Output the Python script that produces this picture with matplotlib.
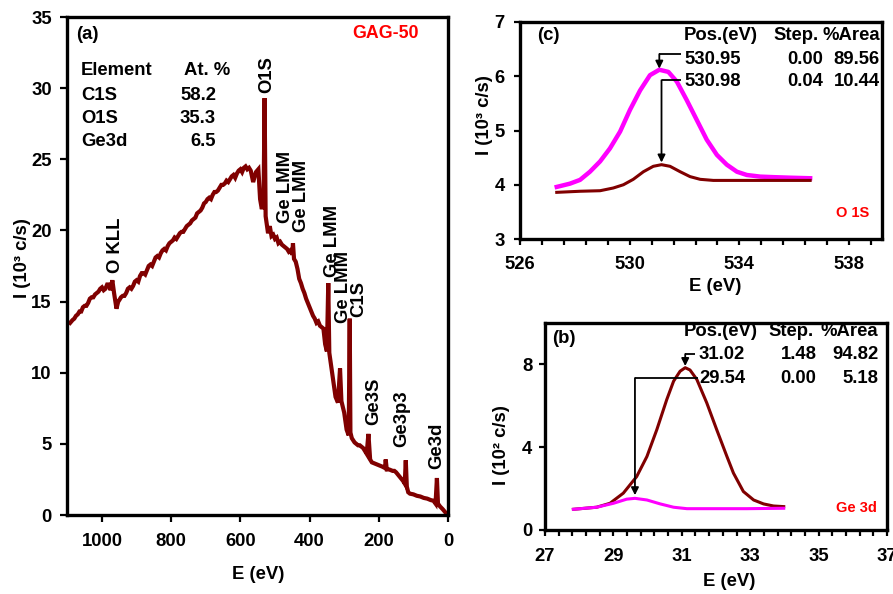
import matplotlib
matplotlib.use("Agg")
import matplotlib.pyplot as plt
import numpy as np
from matplotlib.ticker import MultipleLocator, FixedLocator

plt.rcParams['font.family'] = ['Liberation Sans', 'DejaVu Sans']
plt.rcParams['font.weight'] = 'bold'
plt.rcParams['axes.labelweight'] = 'bold'

# ---------------- data: survey spectrum (a) ----------------
survey_E = [1092, 1085, 1080, 1075, 1070, 1065, 1060, 1055, 1050, 1045, 1040, 1035, 1030, 1025, 1020, 1015,
            1010, 1005, 1000, 995, 990, 985, 980, 975, 970, 965, 958,
            953, 950, 945, 940, 935, 930, 925, 920, 915, 910, 905, 900, 895, 890, 885, 880, 875, 870, 865,
            860, 855, 850, 845, 840, 835, 830, 825, 820, 815, 810, 805, 800, 795, 790, 785, 780, 775,
            770, 765, 760, 755, 750, 745, 740, 735, 730, 725, 720, 715, 710, 705, 700, 695, 690, 685,
            680, 675, 670, 665, 660, 655, 650, 645, 640, 635, 630, 625, 620, 615, 610, 605, 600, 595,
            590, 585, 580, 575, 570, 563, 555, 548, 543, 538, 533, 530, 527, 520, 515, 510, 505, 500,
            495, 490, 485, 480, 475, 470, 465, 460, 455, 450, 448, 445, 440, 435, 430, 425, 420, 415,
            410, 405, 400, 395, 390, 385, 380, 375, 370, 365, 360, 355, 350, 346, 343, 335,
            325, 318, 312, 308, 300, 293, 287, 284, 282, 278, 270, 265, 260, 255, 250, 245, 240, 235, 230, 225, 220,
            210, 200, 190, 182, 180, 177, 170, 165, 160, 155, 150, 140, 130, 125, 122, 119, 115, 110, 100, 90,
            80, 70, 60, 50, 42, 36, 32, 29, 23, 15, 8, 3]
survey_I = [13.5, 13.7, 13.8, 14.0, 14.1, 14.3, 14.3, 14.6, 14.7, 14.7, 14.9, 15.2, 15.3, 15.3, 15.5, 15.6,
            15.7, 15.9, 16.0, 15.8, 15.9, 16.2, 16.2, 15.8, 16.5, 15.6, 14.5,
            15.0, 15.1, 15.3, 15.4, 15.4, 15.6, 15.9, 16.0, 15.9, 16.1, 16.4, 16.5, 16.4, 16.8, 17.0, 17.0, 16.9, 17.2, 17.5,
            17.6, 17.5, 17.8, 18.1, 18.2, 18.1, 18.4, 18.6, 18.7, 18.6, 18.9, 19.1, 19.2, 19.3, 19.5, 19.4, 19.6, 19.8,
            19.9, 19.9, 20.1, 20.3, 20.4, 20.5, 20.7, 20.8, 20.9, 21.2, 21.3, 21.4, 21.6, 21.9, 22.0, 22.2, 22.3, 22.2,
            22.5, 22.7, 22.7, 22.8, 23.0, 23.2, 23.2, 23.3, 23.5, 23.4, 23.6, 23.8, 23.9, 23.7, 24.0, 24.2, 24.3, 24.1,
            24.4, 24.5, 24.3, 24.4, 24.2, 23.4, 24.1, 24.3, 22.2, 21.5, 22.0, 29.3, 21.0, 19.8, 20.3, 19.6, 19.7, 19.4,
            19.5, 19.1, 19.2, 19.0, 18.9, 18.8, 18.7, 18.5, 18.6, 18.3, 19.1, 18.0, 17.8, 17.3, 16.6, 16.3, 15.9, 15.6,
            15.2, 14.9, 14.6, 14.3, 14.0, 13.8, 13.5, 13.6, 13.3, 13.2, 13.1, 12.0, 11.5, 16.3, 11.4, 10.0,
            8.3, 7.9, 10.3, 8.0, 7.2, 6.0, 5.6, 13.8, 5.8, 5.4, 5.1, 5.0, 4.9, 4.9, 4.8, 4.7, 4.5, 4.3, 5.7, 3.9, 3.7,
            3.6, 3.5, 3.4, 3.3, 3.9, 3.2, 3.2, 3.15, 3.1, 3.1, 3.0, 2.7, 2.4, 2.2, 3.85, 2.0, 1.6, 1.5, 1.45, 1.35,
            1.3, 1.2, 1.15, 1.05, 1.0, 0.8, 2.6, 0.8, 0.6, 0.4, 0.2, 0.05]

peak_labels = ["O1S", "Ge LMM", "Ge LMM", "Ge LMM", "Ge LMM", "C1S", "Ge3S", "Ge3p3", "Ge3d", "O KLL"]
peak_label_E = [523, 471, 422, 335, 303, 257, 216, 133, 32, 962]
peak_label_I = [29.65, 20.5, 19.9, 16.7, 13.5, 13.9, 6.3, 4.8, 3.2, 17.0]

comp_elements = ["C1S", "O1S", "Ge3d"]
comp_atpct = ["58.2", "35.3", "6.5"]

# ---------------- data: O 1S (c) ----------------
o1s_env_E = [527.34, 527.82, 528.19, 528.55, 528.92, 529.28, 529.65, 530.01, 530.38, 530.74, 531.08,
             531.41, 531.72, 532.08, 532.45, 532.81, 533.18, 533.54, 533.91, 534.27, 534.76, 535.25,
             535.85, 536.58]
o1s_env_I = [3.96, 4.02, 4.09, 4.24, 4.43, 4.67, 4.98, 5.38, 5.74, 6.02, 6.12,
             6.08, 5.90, 5.56, 5.19, 4.83, 4.55, 4.37, 4.24, 4.18, 4.15, 4.14,
             4.13, 4.12]
o1s_sub_E = [527.34, 528.19, 528.92, 529.40, 529.77, 530.13, 530.50, 530.86, 531.16, 531.47,
             531.84, 532.20, 532.57, 533.05, 534.27, 536.58]
o1s_sub_I = [3.86, 3.88, 3.89, 3.94, 4.00, 4.10, 4.24, 4.34, 4.37, 4.34,
             4.24, 4.15, 4.10, 4.08, 4.08, 4.08]
o1s_pos = ["530.95", "530.98"]
o1s_step = ["0.00", "0.04"]
o1s_area = ["89.56", "10.44"]

# ---------------- data: Ge 3d (b) ----------------
ge_main_E = [27.83, 28.51, 28.90, 29.29, 29.68, 29.98, 30.27, 30.56, 30.76, 30.95, 31.10,
             31.24, 31.44, 31.73, 32.02, 32.32, 32.51, 32.80, 33.10, 33.39, 33.68, 33.98]
ge_main_I = [1.00, 1.10, 1.29, 1.78, 2.58, 3.55, 4.85, 6.30, 7.19, 7.67, 7.84,
             7.73, 7.27, 6.14, 4.85, 3.55, 2.75, 1.86, 1.45, 1.26, 1.16, 1.13]
ge_sub_E = [27.83, 28.51, 29.00, 29.39, 29.63, 29.98, 30.37, 30.76, 31.15, 31.93, 32.90, 33.98]
ge_sub_I = [1.00, 1.10, 1.29, 1.49, 1.53, 1.45, 1.26, 1.10, 1.03, 1.03, 1.03, 1.05]
ge_pos = ["31.02", "29.54"]
ge_step = ["1.48", "0.00"]
ge_area = ["94.82", "5.18"]

BROWN = "#800000"
MAG = "#FF00FF"
FS = 13.3

fig = plt.figure(figsize=(8.93, 5.94), dpi=100)

def style(ax, lw=2.4):
    for s in ax.spines.values():
        s.set_linewidth(lw)
    ax.tick_params(direction='out', width=1.6, labelsize=FS)
    for lab in ax.get_xticklabels() + ax.get_yticklabels():
        lab.set_fontweight('bold')

# ---------- (a) ----------
ax = fig.add_axes([67/893, 1-515/594, 381/893, 498/594])
ax.plot(survey_E, survey_I, color=BROWN, lw=3.0, solid_joinstyle='miter')
ax.set_xlim(1101, 0)
ax.set_ylim(0, 35)
ax.xaxis.set_major_locator(MultipleLocator(200))
ax.yaxis.set_major_locator(MultipleLocator(5))
style(ax)
ax.tick_params(axis='x', length=5, pad=8)
ax.tick_params(axis='y', length=5, pad=6)
ax.set_xlabel("E (eV)", fontsize=FS, fontweight='bold')
ax.set_ylabel("I (10³ c/s)", fontsize=FS, fontweight='bold')
ax.xaxis.set_label_coords(0.501, -0.120)
ax.xaxis.label.set_va('center')
ax.yaxis.set_label_coords(-0.1155, 0.516)
ax.yaxis.label.set_va('center')
for t, e, i in zip(peak_labels, peak_label_E, peak_label_I):
    ax.text(e, i, t, rotation=90, ha='center', va='bottom', fontsize=FS, fontweight='bold')
ax.text(0.024, 0.964, "(a)", transform=ax.transAxes, ha='left', va='center', fontsize=FS, fontweight='bold')
ax.text(0.837, 0.966, "GAG-50", transform=ax.transAxes, ha='center', va='center', fontsize=12.8,
        fontweight='bold', color='#FF0000')
ax.text(0.037, 0.892, "Element", transform=ax.transAxes, ha='left', va='center', fontsize=FS, fontweight='bold')
ax.text(0.307, 0.892, "At. %", transform=ax.transAxes, ha='left', va='center', fontsize=FS, fontweight='bold')
row_y = [0.843, 0.797, 0.749]
for el, pct, yy in zip(comp_elements, comp_atpct, row_y):
    ax.text(0.037, yy, el, transform=ax.transAxes, ha='left', va='center', fontsize=FS, fontweight='bold')
    ax.text(0.391, yy, pct, transform=ax.transAxes, ha='right', va='center', fontsize=FS, fontweight='bold')

# ---------- helper for fit panels ----------
def fit_table(ax, x_head, x_row, x_step, x_area, y_head, y_rows, pos, step, area):
    ax.text(x_head, y_head, "Pos.(eV)", transform=ax.transAxes, ha='left', va='center', fontsize=FS, fontweight='bold')
    ax.text(x_step, y_head, "Step.", transform=ax.transAxes, ha='right', va='center', fontsize=FS, fontweight='bold')
    ax.text(x_area, y_head, "%Area", transform=ax.transAxes, ha='right', va='center', fontsize=FS, fontweight='bold')
    for p, s, a, yy in zip(pos, step, area, y_rows):
        ax.text(x_row, yy, p, transform=ax.transAxes, ha='left', va='center', fontsize=FS, fontweight='bold')
        ax.text(x_step + 0.01, yy, s, transform=ax.transAxes, ha='right', va='center', fontsize=FS, fontweight='bold')
        ax.text(x_area, yy, a, transform=ax.transAxes, ha='right', va='center', fontsize=FS, fontweight='bold')

def elbow_arrow(ax, x_start_ax, y_start_ax, xe, ye, tip_gap):
    # horizontal segment from table text to peak x, then arrow down to peak
    trans = ax.transAxes + ax.transData.inverted()
    xs, ys = trans.transform((x_start_ax, y_start_ax))
    ax.plot([xs, xe], [ys, ys], color='black', lw=1.3, solid_capstyle='butt')
    ax.annotate("", xy=(xe, ye + tip_gap), xytext=(xe, ys),
                arrowprops=dict(arrowstyle='-|>', color='black', lw=1.3, mutation_scale=11,
                                shrinkA=0, shrinkB=0))

# ---------- (c) O 1S ----------
axc = fig.add_axes([520/893, 1-239/594, 362/893, 217/594])
axc.plot(o1s_env_E, o1s_env_I, color=MAG, lw=3.2)
axc.plot(o1s_sub_E, o1s_sub_I, color=BROWN, lw=2.2)
axc.set_xlim(526, 539.2)
axc.set_ylim(3, 7)
axc.xaxis.set_major_locator(FixedLocator([526, 530, 534, 538]))
axc.xaxis.set_minor_locator(MultipleLocator(0.8, offset=526))
axc.yaxis.set_major_locator(MultipleLocator(1))
style(axc)
axc.tick_params(axis='x', which='both', length=4, width=1.6, pad=8)
axc.tick_params(axis='y', length=4, pad=7)
axc.set_xlabel("E (eV)", fontsize=FS, fontweight='bold')
axc.set_ylabel("I (10³ c/s)", fontsize=FS, fontweight='bold')
axc.xaxis.set_label_coords(0.539, -0.221)
axc.xaxis.label.set_va('center')
axc.yaxis.set_label_coords(-0.097, 0.571)
axc.yaxis.label.set_va('center')
axc.text(0.047, 0.94, "(c)", transform=axc.transAxes, ha='left', va='center', fontsize=FS, fontweight='bold')
fit_table(axc, 0.453, 0.453, 0.826, 0.994, 0.94, [0.829, 0.724], o1s_pos, o1s_step, o1s_area)
axc.text(0.920, 0.120, "O 1S", transform=axc.transAxes, ha='center', va='center', fontsize=10.5,
         fontweight='bold', color='#FF0000')
i1 = int(np.argmax(o1s_env_I)); i2 = int(np.argmax(o1s_sub_I))
elbow_arrow(axc, 0.445, 0.852, o1s_env_E[i1], o1s_env_I[i1], 0.02)
elbow_arrow(axc, 0.445, 0.732, o1s_sub_E[i2], o1s_sub_I[i2], 0.04)

# ---------- (b) Ge 3d ----------
axb = fig.add_axes([545/893, 1-530/594, 342/893, 207/594])
axb.plot(ge_main_E, ge_main_I, color=BROWN, lw=2.2)
axb.plot(ge_sub_E, ge_sub_I, color=MAG, lw=2.2)
axb.set_xlim(27, 37)
axb.set_ylim(0, 10)
axb.xaxis.set_major_locator(FixedLocator([27, 29, 31, 33, 35, 37]))
axb.xaxis.set_minor_locator(MultipleLocator(0.4, offset=27))
axb.yaxis.set_major_locator(MultipleLocator(4))
style(axb)
axb.tick_params(axis='x', which='both', length=4, width=1.6, pad=9)
axb.tick_params(axis='y', length=4, pad=5)
axb.set_xlabel("E (eV)", fontsize=FS, fontweight='bold')
axb.set_ylabel("I (10² c/s)", fontsize=FS, fontweight='bold')
axb.xaxis.set_label_coords(0.538, -0.251)
axb.xaxis.label.set_va('center')
axb.yaxis.set_label_coords(-0.126, 0.41)
axb.yaxis.label.set_va('center')
axb.text(0.020, 0.923, "(b)", transform=axb.transAxes, ha='left', va='center', fontsize=FS, fontweight='bold')
fit_table(axb, 0.406, 0.450, 0.784, 0.975, 0.957, [0.850, 0.734], ge_pos, ge_step, ge_area)
axb.text(0.910, 0.106, "Ge 3d", transform=axb.transAxes, ha='center', va='center', fontsize=10.5,
         fontweight='bold', color='#FF0000')
j1 = int(np.argmax(ge_main_I)); j2 = int(np.argmax(ge_sub_I))
elbow_arrow(axb, 0.440, 0.850, ge_main_E[j1], ge_main_I[j1], 0.08)
elbow_arrow(axb, 0.446, 0.734, ge_sub_E[j2], ge_sub_I[j2], 0.15)

fig.savefig("out.png", dpi=100)
